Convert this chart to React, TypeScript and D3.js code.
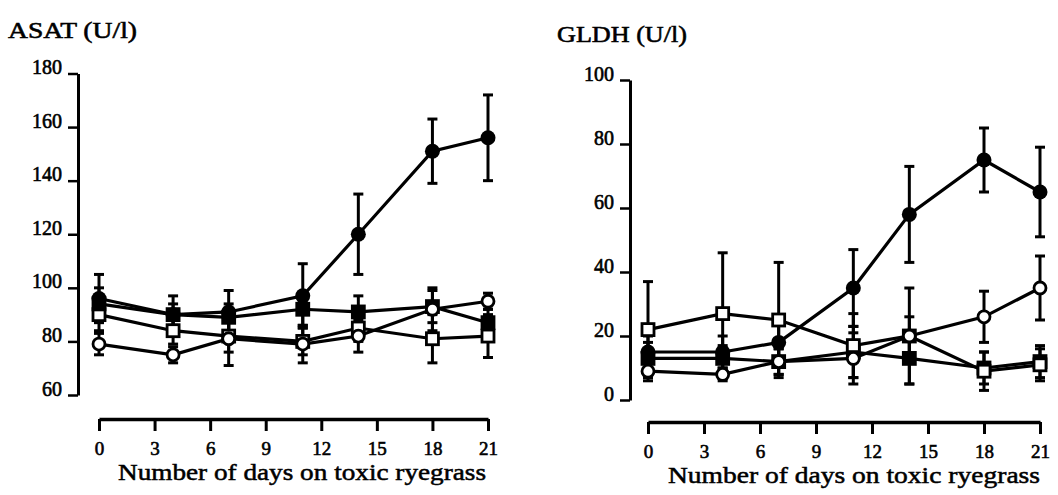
import React, { useEffect, useRef } from "react";
import * as d3 from "d3";

const days = [0, 4, 7, 11, 14, 18, 21];
const dayTicks = [0, 3, 6, 9, 12, 15, 18, 21];

// ASAT (U/l)
const asatTicks = [60, 80, 100, 120, 140, 160, 180];
const asatFilledCircle = [96, 90, 91, 97, 120, 151, 156];
const asatFilledCircleSd = [9, 7, 8, 12, 15, 12, 16];
const asatOpenCircle = [79, 75, 81, 79, 82, 92, 95];
const asatOpenCircleSd = [4, 3, 10, 7, 6, 8, 3];
const asatFilledSquare = [94, 90, 89, 92, 91, 93, 87];
const asatFilledSquareSd = [6, 4, 5, 6, 6, 6, 5];
const asatOpenSquare = [90, 84, 82, 80, 85, 81, 82];
const asatOpenSquareSd = [6, 5, 6, 5, 5, 9, 8];

// GLDH (U/l)
const gldhTicks = [0, 20, 40, 60, 80, 100];
const gldhFilledCircle = [15, 15, 18, 35, 58, 75, 65];
const gldhFilledCircleSd = [5, 5, 6, 12, 15, 10, 14];
const gldhOpenCircle = [9, 8, 12, 13, 20, 26, 35];
const gldhOpenCircleSd = [3, 2, 4, 8, 6, 8, 10];
const gldhFilledSquare = [13, 13, 12, 15, 13, 10, 12];
const gldhFilledSquareSd = [5, 4, 4, 8, 8, 5, 5];
const gldhOpenSquare = [22, 27, 25, 17, 20, 9, 11];
const gldhOpenSquareSd = [15, 19, 18, 10, 15, 6, 5];

const xTitle = "Number of days on toxic ryegrass";
const font = "'Liberation Serif', 'Times New Roman', serif";

type Series = { values: number[]; sd: number[]; shape: "circle" | "square"; filled: boolean };

const drawPanel = (svg, opts) => {
  const { title, titleX, titleY, titleW, yDomain, yRange, yTicks, axisX, xRange, axisY, xTitleX, xTitleY, xTitleW, series } = opts;
  const y = d3.scaleLinear().domain(yDomain).range(yRange);
  const x = d3.scaleLinear().domain([0, 21]).range(xRange);
  const g = svg.append("g");

  g.append("text")
    .attr("x", titleX)
    .attr("y", titleY)
    .style("font-family", font)
    .attr("font-size", 24)
    .attr("stroke", "#000")
    .attr("stroke-width", 0.6)
    .attr("textLength", titleW)
    .attr("lengthAdjust", "spacingAndGlyphs")
    .text(title);

  // y axis
  const ya = g
    .append("g")
    .attr("transform", `translate(${axisX},0)`)
    .call(d3.axisLeft(y).tickValues(yTicks).tickSize(10).tickSizeOuter(0).tickPadding(6));
  ya.select(".domain").attr("stroke-width", 3).attr("stroke", "#000");
  ya.selectAll(".tick line").attr("stroke-width", 2.5).attr("stroke", "#000");
  ya.selectAll(".tick text")
    .style("font-family", font)
    .attr("font-size", 20)
    .attr("stroke", "#000")
    .attr("stroke-width", 0.6)
    .attr("dy", 0)
    .attr("fill", "#000");

  // x axis
  const xa = g
    .append("g")
    .attr("transform", `translate(0,${axisY})`)
    .call(d3.axisBottom(x).tickValues(dayTicks).tickSize(12).tickSizeOuter(0).tickPadding(10.5));
  xa.select(".domain").attr("stroke-width", 3.5).attr("stroke", "#000");
  xa.selectAll(".tick line").attr("stroke-width", 3).attr("stroke", "#000");
  xa.selectAll(".tick text")
    .style("font-family", font)
    .attr("font-size", 19)
    .attr("stroke", "#000")
    .attr("stroke-width", 0.6)
    .attr("fill", "#000");

  g.append("text")
    .attr("x", xTitleX)
    .attr("y", xTitleY)
    .attr("text-anchor", "middle")
    .style("font-family", font)
    .attr("font-size", 23)
    .attr("stroke", "#000")
    .attr("stroke-width", 0.5)
    .attr("textLength", xTitleW)
    .attr("lengthAdjust", "spacingAndGlyphs")
    .text(xTitle);

  const line = d3
    .line<number>()
    .x((d, i) => x(days[i]))
    .y((d) => y(d));

  // error bars
  series.forEach((s: Series) => {
    s.values.forEach((v, i) => {
      const cx = x(days[i]);
      const hi = y(v + s.sd[i]);
      const lo = y(v - s.sd[i]);
      g.append("line").attr("x1", cx).attr("x2", cx).attr("y1", hi).attr("y2", lo).attr("stroke", "#000").attr("stroke-width", 3);
      [hi, lo].forEach((cy) =>
        g.append("line").attr("x1", cx - 5).attr("x2", cx + 5).attr("y1", cy).attr("y2", cy).attr("stroke", "#000").attr("stroke-width", 3)
      );
    });
  });

  // lines
  series.forEach((s: Series) => {
    g.append("path").attr("d", line(s.values)).attr("fill", "none").attr("stroke", "#000").attr("stroke-width", 3.2);
  });

  // markers
  series.forEach((s: Series) => {
    s.values.forEach((v, i) => {
      const cx = x(days[i]);
      const cy = y(v);
      const fill = s.filled ? "#000" : "#fff";
      if (s.shape === "circle") {
        g.append("circle")
          .attr("cx", cx)
          .attr("cy", cy)
          .attr("r", s.filled ? 7.5 : 6)
          .attr("fill", fill)
          .attr("stroke", "#000")
          .attr("stroke-width", s.filled ? 0 : 2.8);
      } else {
        g.append("rect")
          .attr("x", cx - 6)
          .attr("y", cy - 6)
          .attr("width", 12)
          .attr("height", 12)
          .attr("fill", fill)
          .attr("stroke", "#000")
          .attr("stroke-width", 2.8);
      }
    });
  });
};

const App = () => {
  const ref = useRef(null);

  useEffect(() => {
    document.body.style.margin = "0";
    const svg = d3.select(ref.current);
    svg.selectAll("*").remove();

    drawPanel(svg, {
      title: "ASAT (U/l)",
      titleX: 8,
      titleY: 38,
      titleW: 129,
      yDomain: [60, 180],
      yRange: [395, 73.5],
      yTicks: asatTicks,
      axisX: 78,
      xRange: [99, 488],
      axisY: 419,
      xTitleX: 302,
      xTitleY: 480,
      xTitleW: 368,
      series: [
        { values: asatOpenSquare, sd: asatOpenSquareSd, shape: "square", filled: false },
        { values: asatFilledSquare, sd: asatFilledSquareSd, shape: "square", filled: true },
        { values: asatOpenCircle, sd: asatOpenCircleSd, shape: "circle", filled: false },
        { values: asatFilledCircle, sd: asatFilledCircleSd, shape: "circle", filled: true },
      ],
    });

    drawPanel(svg, {
      title: "GLDH (U/l)",
      titleX: 557,
      titleY: 42,
      titleW: 130,
      yDomain: [0, 100],
      yRange: [400, 80],
      yTicks: gldhTicks,
      axisX: 630,
      xRange: [648, 1040],
      axisY: 422,
      xTitleX: 854,
      xTitleY: 483,
      xTitleW: 372,
      series: [
        { values: gldhFilledSquare, sd: gldhFilledSquareSd, shape: "square", filled: true },
        { values: gldhFilledCircle, sd: gldhFilledCircleSd, shape: "circle", filled: true },
        { values: gldhOpenSquare, sd: gldhOpenSquareSd, shape: "square", filled: false },
        { values: gldhOpenCircle, sd: gldhOpenCircleSd, shape: "circle", filled: false },
      ],
    });
  }, []);

  return <svg ref={ref} width={1058} height={495} style={{ display: "block", background: "#fff", fontFamily: font }} />;
};

export default App;
